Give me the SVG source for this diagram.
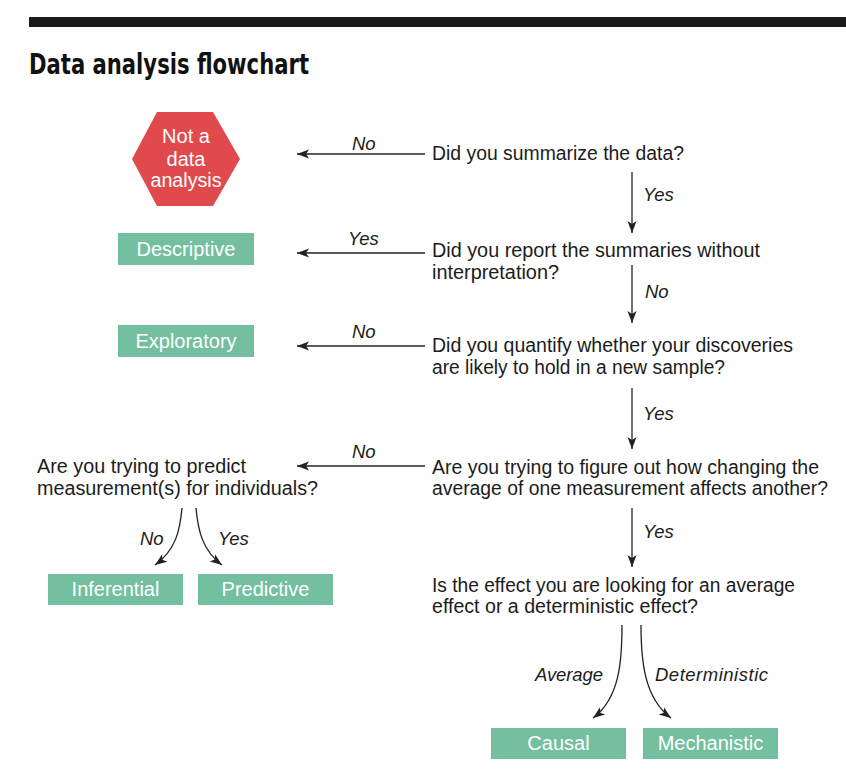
<svg xmlns="http://www.w3.org/2000/svg" width="846" height="781" viewBox="0 0 846 781">
<style>
.q{font-family:"Liberation Sans",Arial,sans-serif;font-size:20px;fill:#1c1c1c}
.lab{font-family:"Liberation Sans",Arial,sans-serif;font-size:18.5px;font-style:italic;fill:#1c1c1c}
.bx{fill:#73bf9f}
.bt{font-family:"Liberation Sans",Arial,sans-serif;font-size:20px;fill:#ffffff;text-anchor:middle}
.ln{fill:none;stroke:#222;stroke-width:1.3;marker-end:url(#ah)}
.title{font-family:"DejaVu Sans Condensed","DejaVu Sans",sans-serif;font-weight:bold;font-stretch:condensed;font-size:28px;fill:#111}
</style>
<defs>
<marker id="ah" markerUnits="userSpaceOnUse" viewBox="-1 -6 15 12" refX="12" refY="0" markerWidth="15" markerHeight="12" orient="auto">
<path d="M0,-4.5 L12,0 L0,4.5 L3,0 Z" fill="#222"/>
</marker>
</defs>
<rect width="846" height="781" fill="#fefefe"/>
<rect x="29" y="17" width="817" height="10" fill="#1a1a1a"/>
<text class="title" x="29" y="74" textLength="280" lengthAdjust="spacingAndGlyphs">Data analysis flowchart</text>

<g id="connectors">
<path class="ln" d="M425,154 L297,154"/>
<path class="ln" d="M425,253 L297,253"/>
<path class="ln" d="M425,346 L297,346"/>
<path class="ln" d="M425,466 L297,466"/>
<path class="ln" d="M632,172 L632,233"/>
<path class="ln" d="M632,265 L632,323"/>
<path class="ln" d="M632,388 L632,449"/>
<path class="ln" d="M632,508 L632,567"/>
<path class="ln" d="M182,508 C180,530 176,550 155,565"/>
<path class="ln" d="M196,508 C198,530 202,550 222,565"/>
<path class="ln" d="M622,625 C622,660 620,698 593,718"/>
<path class="ln" d="M641,625 C641,660 644,698 671,718"/>
<text class="lab" x="352" y="150">No</text>
<text class="lab" x="348" y="245">Yes</text>
<text class="lab" x="352" y="338">No</text>
<text class="lab" x="352" y="458">No</text>
<text class="lab" x="643" y="201">Yes</text>
<text class="lab" x="645" y="298">No</text>
<text class="lab" x="643" y="420">Yes</text>
<text class="lab" x="643" y="538">Yes</text>
<text class="lab" x="140" y="545">No</text>
<text class="lab" x="218" y="545">Yes</text>
<text class="lab" x="535" y="681" textLength="68">Average</text>
<text class="lab" x="655" y="681" textLength="113">Deterministic</text>
</g>

<g id="not-data-analysis">
<polygon points="132,159 157,112 213,112 240,159 213,206 157,206" fill="#e04a4c"/>
<text class="bt" x="186" y="143">Not a</text>
<text class="bt" x="186" y="166">data</text>
<text class="bt" x="186" y="187" textLength="71" lengthAdjust="spacingAndGlyphs">analysis</text>
</g>

<g id="q1"><text class="q" x="432" y="160" textLength="252" lengthAdjust="spacingAndGlyphs">Did you summarize the data?</text></g>
<g id="q2">
<text class="q" x="432" y="257" textLength="328" lengthAdjust="spacingAndGlyphs">Did you report the summaries without</text>
<text class="q" x="432" y="279" textLength="127" lengthAdjust="spacingAndGlyphs">interpretation?</text>
</g>
<g id="q3">
<text class="q" x="432" y="352" textLength="361" lengthAdjust="spacingAndGlyphs">Did you quantify whether your discoveries</text>
<text class="q" x="432" y="374" textLength="293" lengthAdjust="spacingAndGlyphs">are likely to hold in a new sample?</text>
</g>
<g id="q4">
<text class="q" x="432" y="474" textLength="387" lengthAdjust="spacingAndGlyphs">Are you trying to figure out how changing the</text>
<text class="q" x="432" y="495" textLength="396" lengthAdjust="spacingAndGlyphs">average of one measurement affects another?</text>
</g>
<g id="q5">
<text class="q" x="37" y="473" textLength="209" lengthAdjust="spacingAndGlyphs">Are you trying to predict</text>
<text class="q" x="37" y="495" textLength="281" lengthAdjust="spacingAndGlyphs">measurement(s) for individuals?</text>
</g>
<g id="q6">
<text class="q" x="432" y="592" textLength="363" lengthAdjust="spacingAndGlyphs">Is the effect you are looking for an average</text>
<text class="q" x="432" y="613" textLength="266" lengthAdjust="spacingAndGlyphs">effect or a deterministic effect?</text>
</g>

<g id="descriptive"><rect class="bx" x="118" y="233" width="136" height="32"/><text class="bt" x="186" y="256" textLength="99" lengthAdjust="spacingAndGlyphs">Descriptive</text></g>
<g id="exploratory"><rect class="bx" x="118" y="325" width="136" height="32"/><text class="bt" x="186" y="348">Exploratory</text></g>
<g id="inferential"><rect class="bx" x="48" y="574" width="135" height="31"/><text class="bt" x="115.5" y="596">Inferential</text></g>
<g id="predictive"><rect class="bx" x="198" y="574" width="135" height="31"/><text class="bt" x="265.5" y="596">Predictive</text></g>
<g id="causal"><rect class="bx" x="491" y="728" width="135" height="31"/><text class="bt" x="558.5" y="750">Causal</text></g>
<g id="mechanistic"><rect class="bx" x="643" y="728" width="135" height="31"/><text class="bt" x="710.5" y="750">Mechanistic</text></g>
</svg>
